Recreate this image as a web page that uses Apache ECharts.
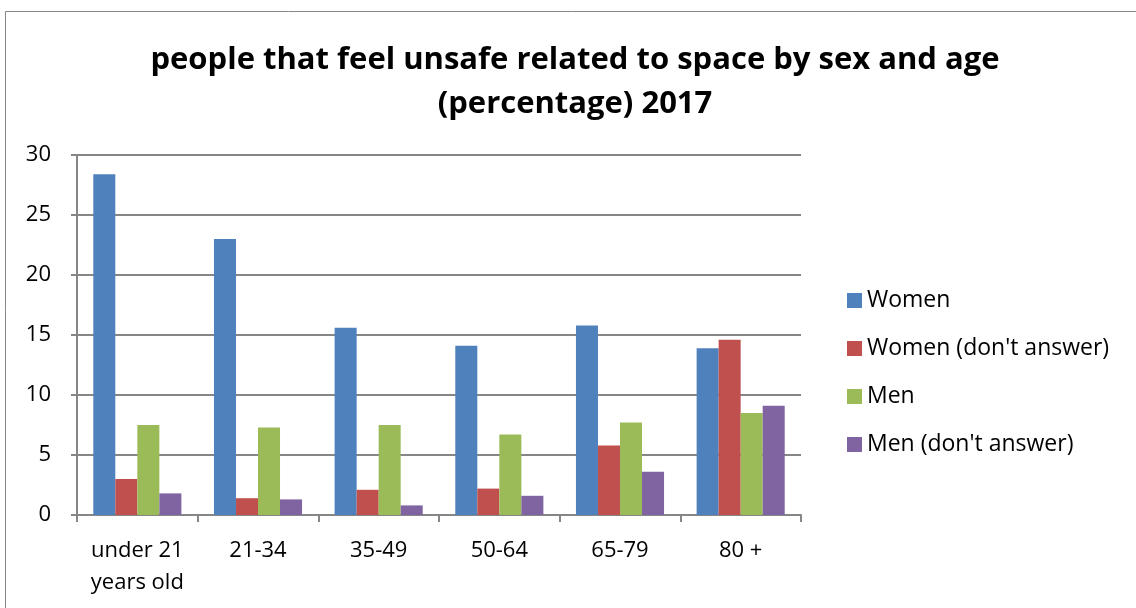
<!DOCTYPE html>
<html><head><meta charset="utf-8">
<script src="https://cdn.jsdelivr.net/npm/echarts@6/dist/echarts.min.js"></script>
<style>html,body{margin:0;padding:0;background:#fff}#c{width:1136px;height:608px}</style>
</head><body><div id="c"></div>
<script>
const categories = ['under 21\nyears old', '21-34', '35-49', '50-64', '65-79', '80 +'];
const women = [28.4, 23.0, 15.6, 14.1, 15.8, 13.9];
const womenNoAnswer = [3.0, 1.4, 2.1, 2.2, 5.8, 14.6];
const men = [7.5, 7.3, 7.5, 6.7, 7.7, 8.5];
const menNoAnswer = [1.8, 1.3, 0.8, 1.6, 3.6, 9.1];
const seriesNames = ['Women', "Women (don't answer)", 'Men', "Men (don't answer)"];
const colors = ['#4F81BD', '#C0504D', '#9BBB59', '#8064A2'];
const yTicks = [0, 5, 10, 15, 20, 25, 30];

const font = 'Open Sans, Noto Sans, sans-serif';
const chart = echarts.init(document.getElementById('c'));
const mk = (name, data, i) => ({
  name, type: 'bar', data, barGap: '0%', barCategoryGap: '27%',
  itemStyle: { color: colors[i] }, emphasis: { disabled: true }
});
chart.setOption({
  animation: false,
  color: colors,
  title: {
    text: 'people that feel unsafe related to space by sex and age\n(percentage) 2017',
    left: 570, top: 33, textAlign: 'center',
    textStyle: { fontFamily: font, fontSize: 31, fontWeight: 'bold', color: '#000', lineHeight: 44 }
  },
  graphic: [{
    type: 'rect', shape: { x: 5.5, y: 11.5, width: 1200, height: 700 },
    style: { fill: 'none', stroke: '#878787', lineWidth: 1 }, silent: true
  }],
  legend: {
    orient: 'vertical', left: 842, top: 284, itemGap: 25,
    itemWidth: 15, itemHeight: 15, icon: 'rect',
    textStyle: { fontFamily: font, fontSize: 23, color: '#000', padding: [0, 0, 0, 0] },
    data: seriesNames
  },
  grid: { left: 77, right: 335, top: 155, bottom: 93, containLabel: false },
  xAxis: {
    type: 'category', data: categories,
    axisLine: { lineStyle: { color: '#868686', width: 2 } },
    axisTick: { show: true, length: 7, lineStyle: { color: '#868686', width: 2 } },
    axisLabel: { interval: 0, fontFamily: font, fontSize: 22, color: '#000', margin: 20, lineHeight: 32 }
  },
  yAxis: {
    type: 'value', min: 0, max: 30, interval: 5,
    axisLine: { show: true, lineStyle: { color: '#868686', width: 2 } },
    axisTick: { show: true, length: 6, lineStyle: { color: '#868686', width: 2 } },
    splitLine: { lineStyle: { color: '#868686', width: 2 } },
    axisLabel: { fontFamily: font, fontSize: 22, color: '#000', margin: 26,
      formatter: v => yTicks.includes(v) ? String(v) : '' }
  },
  series: [
    mk(seriesNames[0], women, 0),
    mk(seriesNames[1], womenNoAnswer, 1),
    mk(seriesNames[2], men, 2),
    mk(seriesNames[3], menNoAnswer, 3)
  ]
});
</script></body></html>
